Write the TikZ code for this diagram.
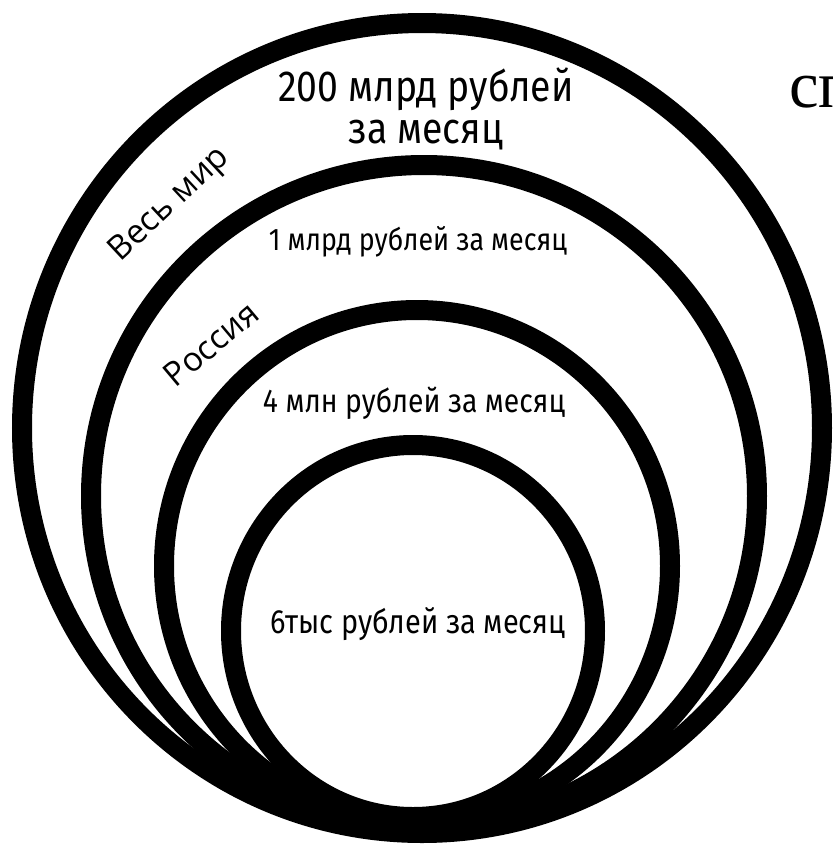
\documentclass[tikz,border=0pt]{standalone}
\usepackage{fontspec}
\setmainfont{Open Sans}
\newfontfamily\numfont[FakeStretch=0.86]{Fira Sans}
\newfontfamily\labfont{Open Sans}
\newfontfamily\serfont{Liberation Serif}
\begin{document}
\begin{tikzpicture}[x=0.75pt,y=-0.75pt,
  ring/.style={draw=black,line width=15pt},
  amount/.style={text=black,inner sep=0pt,anchor=base,align=center},
  region/.style={text=black,inner sep=0pt,anchor=center,font=\labfont\fontsize{25}{30}\selectfont}]
\useasboundingbox (0,0) rectangle (833,844);
% rings
\draw[ring] (422,428) ellipse [x radius=300pt, y radius=303.75pt];
\draw[ring] (424,496) ellipse [x radius=249.75pt, y radius=248.25pt];
\draw[ring] (417,566) ellipse [x radius=189.75pt, y radius=192pt];
\draw[ring] (413,631) ellipse [x radius=136.5pt, y radius=139.5pt];
% amounts
\node[amount,font=\numfont\fontsize{32.6}{31.5}\selectfont] (a1) at (426,143) {200 млрд рублей\\за месяц};
\node[amount,font=\numfont\fontsize{23.4}{28}\selectfont] (a2) at (418,250) {1 млрд рублей за месяц};
\node[amount,font=\numfont\fontsize{24.7}{29}\selectfont] (a3) at (414,412) {4 млн рублей за месяц};
\node[amount,font=\numfont\fontsize{25.2}{30}\selectfont] (a4) at (418,633) {6тыс рублей за месяц};
% regions
\node[region,rotate=43] (r1) at (170,205) {Весь мир};
\node[region,rotate=40] (r2) at (211,344) {Россия};
% cut-off heading
\node[font=\serfont\fontsize{50}{54}\selectfont,anchor=base west,inner sep=0pt] (sp) at (789,107) {сп};
\end{tikzpicture}
\end{document}
